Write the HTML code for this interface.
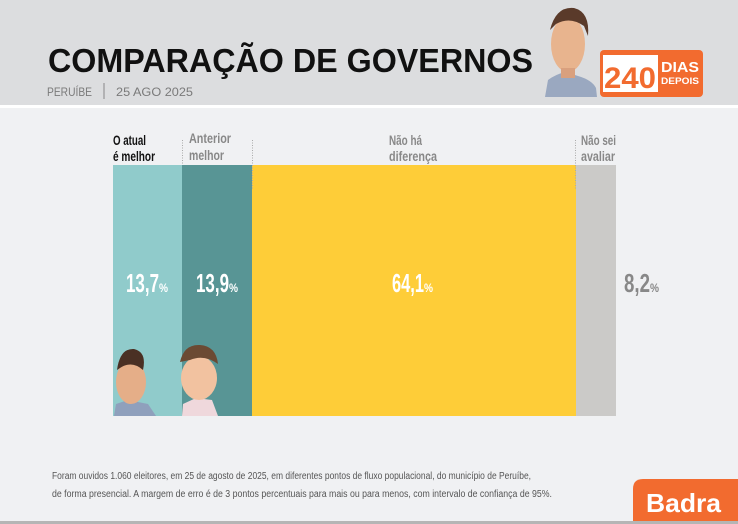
<!DOCTYPE html>
<html><head><meta charset="utf-8"><style>
html,body{margin:0;padding:0;width:738px;height:524px;overflow:hidden;background:#f0f1f3}
svg{display:block}
</style></head><body>
<svg width="738" height="524" viewBox="0 0 738 524" xmlns="http://www.w3.org/2000/svg" font-family="Liberation Sans, sans-serif">
<rect x="0" y="0" width="738" height="105" fill="#dcdddf"/>
<rect x="0" y="105" width="738" height="3" fill="#ffffff"/>
<rect x="0" y="108" width="738" height="416" fill="#f0f1f3"/>
<text x="48" y="72" font-size="33" font-weight="bold" fill="#111" textLength="485" lengthAdjust="spacingAndGlyphs">COMPARAÇÃO DE GOVERNOS</text>
<text x="47" y="96" font-size="12" fill="#7a7a7a" textLength="45" lengthAdjust="spacingAndGlyphs">PERUÍBE</text>
<rect x="103.5" y="83" width="1" height="16" fill="#888"/>
<text x="116" y="96" font-size="12" fill="#7a7a7a" textLength="77" lengthAdjust="spacingAndGlyphs">25 AGO 2025</text>
<!-- header face -->
<path d="M545 97 L548 80 Q556 74 566 72 L578 76 Q592 80 596 88 L597 97 Z" fill="#9aa8c0"/>
<ellipse cx="568" cy="44" rx="17" ry="28" fill="#e8b48e"/>
<path d="M550 30 Q556 6 574 8 Q590 12 588 36 L584 26 Q570 16 556 24 Z" fill="#5a3a2a"/>
<rect x="561" y="68" width="14" height="10" fill="#d9a07e"/>
<!-- logo -->
<rect x="600" y="50" width="103" height="47" rx="4" fill="#f26b2f"/>
<rect x="603" y="55" width="55" height="37" fill="#ffffff"/>
<text x="604" y="88" font-size="30" font-weight="bold" fill="#f26b2f" textLength="52" lengthAdjust="spacingAndGlyphs">240</text>
<text x="661" y="72" font-size="15" font-weight="bold" fill="#fff" textLength="38" lengthAdjust="spacingAndGlyphs">DIAS</text>
<text x="661" y="84" font-size="9" font-weight="bold" fill="#fff" textLength="38" lengthAdjust="spacingAndGlyphs">DEPOIS</text>
<!-- bars -->
<rect x="113" y="165" width="69" height="251" fill="#90cbcb"/>
<rect x="182" y="165" width="70" height="251" fill="#589595"/>
<rect x="252" y="165" width="324" height="251" fill="#fecd38"/>
<rect x="576" y="165" width="40" height="251" fill="#cbcac8"/>
<!-- dotted lines -->
<line x1="182.5" y1="140" x2="182.5" y2="165" stroke="#aaa" stroke-dasharray="1,1.5"/>
<line x1="252.5" y1="140" x2="252.5" y2="190" stroke="#aaa" stroke-dasharray="1,1.5"/>
<line x1="575.5" y1="140" x2="575.5" y2="190" stroke="#aaa" stroke-dasharray="1,1.5"/>
<!-- labels -->
<g font-size="14" font-weight="bold">
<text x="113" y="145" fill="#111" textLength="33" lengthAdjust="spacingAndGlyphs">O atual</text>
<text x="113" y="161" fill="#111" textLength="42" lengthAdjust="spacingAndGlyphs">é melhor</text>
<text x="189" y="143" fill="#888" textLength="42" lengthAdjust="spacingAndGlyphs">Anterior</text>
<text x="189" y="160" fill="#888" textLength="35" lengthAdjust="spacingAndGlyphs">melhor</text>
<text x="389" y="145" fill="#888" textLength="33" lengthAdjust="spacingAndGlyphs">Não há</text>
<text x="389" y="161" fill="#888" textLength="48" lengthAdjust="spacingAndGlyphs">diferença</text>
<text x="581" y="145" fill="#888" textLength="35" lengthAdjust="spacingAndGlyphs">Não sei</text>
<text x="581" y="161" fill="#888" textLength="34" lengthAdjust="spacingAndGlyphs">avaliar</text>
</g>
<!-- values -->
<g font-weight="bold">
<text x="126" y="292" font-size="26" fill="#fff" textLength="33" lengthAdjust="spacingAndGlyphs">13,7</text>
<text x="159" y="292" font-size="12" fill="#fff" textLength="9" lengthAdjust="spacingAndGlyphs">%</text>
<text x="196" y="292" font-size="26" fill="#fff" textLength="33" lengthAdjust="spacingAndGlyphs">13,9</text>
<text x="229" y="292" font-size="12" fill="#fff" textLength="9" lengthAdjust="spacingAndGlyphs">%</text>
<text x="392" y="292" font-size="26" fill="#fff" textLength="32" lengthAdjust="spacingAndGlyphs">64,1</text>
<text x="424" y="292" font-size="12" fill="#fff" textLength="9" lengthAdjust="spacingAndGlyphs">%</text>
<text x="624" y="292" font-size="26" fill="#888" textLength="26" lengthAdjust="spacingAndGlyphs">8,2</text>
<text x="650" y="292" font-size="12" fill="#888" textLength="9" lengthAdjust="spacingAndGlyphs">%</text>
</g>
<!-- faces in bars -->
<path d="M114 416 L116 404 L128 400 L148 404 L156 416 Z" fill="#8fa0bc"/>
<ellipse cx="131" cy="382" rx="15" ry="22" fill="#e5ae88"/>
<path d="M117 370 Q120 348 134 349 Q147 352 143 370 Q132 360 120 368 Z" fill="#4a3024"/>
<path d="M182 416 L183 404 L196 398 L212 400 L218 416 Z" fill="#efd8dc"/>
<ellipse cx="199" cy="378" rx="18" ry="22" fill="#f2c2a0"/>
<path d="M180 362 Q184 344 200 345 Q216 346 218 364 Q204 354 190 360 Z" fill="#6b4a33"/>
<!-- footnote -->
<g font-size="10" fill="#555">
<text x="52" y="479" textLength="479" lengthAdjust="spacingAndGlyphs">Foram ouvidos 1.060 eleitores, em 25 de agosto de 2025, em diferentes pontos de fluxo populacional, do município de Peruíbe,</text>
<text x="52" y="497" textLength="500" lengthAdjust="spacingAndGlyphs">de forma presencial. A margem de erro é de 3 pontos percentuais para mais ou para menos, com intervalo de confiança de 95%.</text>
</g>
<!-- Badra -->
<path d="M633 521 L633 489 Q633 479 643 479 L738 479 L738 521 Z" fill="#f26b2f"/>
<text x="646" y="512" font-size="26" font-weight="bold" fill="#fff" textLength="75" lengthAdjust="spacingAndGlyphs">Badra</text>
<rect x="0" y="521" width="738" height="3" fill="#b5b5b5"/>
</svg>
</body></html>
